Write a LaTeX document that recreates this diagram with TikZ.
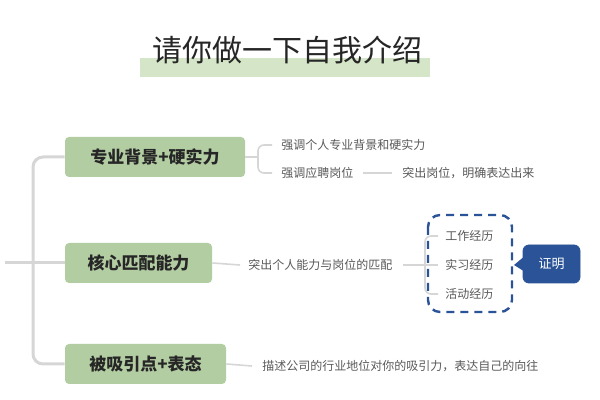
\documentclass[tikz,border=0pt]{standalone}
\usepackage{fontspec}
\setmainfont{Noto Sans CJK SC}
\usetikzlibrary{calc}
\definecolor{mgreen}{HTML}{B3CDA3}
\definecolor{tgreen}{HTML}{D5E5C8}
\definecolor{lgray}{HTML}{D6D6D6}
\definecolor{dblue}{HTML}{2A5398}
\definecolor{txt}{HTML}{595959}
\begin{document}
\begin{tikzpicture}[x=0.5pt,y=-0.5pt,
  mainbox/.style={fill=mgreen,rounded corners=2pt,minimum height=20pt,inner sep=0pt,font=\fontsize{8.5}{10}\selectfont\bfseries,text=black!85},
  sub/.style={font=\fontsize{6}{7}\selectfont,text=txt,inner sep=0pt},
  trunk/.style={draw=lgray,line width=1.5pt,rounded corners=5pt},
  br/.style={draw=lgray,line width=0.8pt,rounded corners=3pt}]
\useasboundingbox (0,0) rectangle (600,400);
\fill[tgreen] (140,58) rectangle (430,77);
\node[font=\fontsize{15}{18}\selectfont,text=black!85] (title) at (287,50) {请你做一下自我介绍};
\node[mainbox,minimum width=90pt] (b1) at (155,157) {专业背景+硬实力};
\node[mainbox,minimum width=73.5pt] (b2) at (138.5,263) {核心匹配能力};
\node[mainbox,minimum width=80.5pt] (b3) at (145.5,364) {被吸引点+表态};
\coordinate (root) at (5,263);
\draw[trunk] (root) -- (33,263);
\draw[trunk] (b1.west) -- (33,157) -- (33,364) -- (b3.west);
\draw[trunk] (33,263) -- (b2.west);
% branch 1
\node[sub,anchor=west] (s11) at (281,145) {强调个人专业背景和硬实力};
\node[sub,anchor=west] (s12) at (281,173) {强调应聘岗位};
\node[sub,anchor=west] (s13) at (402,173) {突出岗位，明确表达出来};
\draw[br] (b1.east) -- (258,157);
\draw[br] (272,145) -- (258,145) -- (258,173) -- (272,173);
\draw[br] ($(s12.east)+(9,0)$) -- ($(s13.west)+(-10,0)$);
% branch 2
\node[sub,anchor=west] (s21) at (248,265) {突出个人能力与岗位的匹配};
\draw[br] (b2.east) -- ($(s21.west)+(-8,0)$);
\node[sub,anchor=west] (e1) at (445,236) {工作经历};
\node[sub,anchor=west] (e2) at (445,265) {实习经历};
\node[sub,anchor=west] (e3) at (445,294) {活动经历};
\draw[br] ($(s21.east)+(10,0)$) -- ($(e2.west)+(-7,0)$);
\draw[br] (438,236) -- (425,236) -- (425,294) -- (438,294);
\draw[dblue,line width=1.2pt,dash pattern=on 4pt off 3pt,rounded corners=6pt] (428,215) rectangle (512,312);
\node[draw=dblue,fill=dblue,text=white,rounded corners=3pt,minimum width=28.5pt,minimum height=19pt,inner sep=0pt,font=\fontsize{6.5}{8}\selectfont] (z) at (551.5,264) {证明};
\fill[dblue] ($(z.west)+(1,-7)$) -- (514,265) -- ($(z.west)+(1,7)$) -- cycle;
% branch 3
\node[sub,anchor=west] (s31) at (262,366) {描述公司的行业地位对你的吸引力，表达自己的向往};
\draw[br] (b3.east) -- ($(s31.west)+(-10,0)$);
\end{tikzpicture}
\end{document}
